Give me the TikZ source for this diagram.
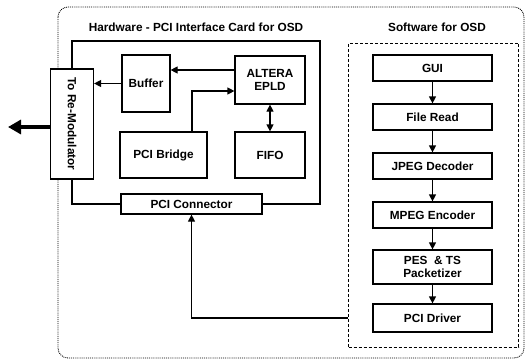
\documentclass[tikz,border=0pt]{standalone}
\usepackage{fontspec}
\setmainfont{Liberation Sans}
\usetikzlibrary{arrows.meta}
\begin{document}
\begin{tikzpicture}[x=1pt,y=-1pt,
  font=\fontsize{11.8}{13.5}\selectfont\bfseries,
  box/.style={draw, line width=1.2pt, fill=white, align=center, inner sep=0pt},
  wire/.style={line width=1.2pt},
  arr/.style={wire, -{Triangle[length=7pt,width=7pt]}},
  dblarr/.style={wire, {Triangle[length=7pt,width=7pt]}-{Triangle[length=7pt,width=7pt]}},
  bigarr/.style={line width=3.2pt, -{Triangle[length=13pt,width=14pt]}},
  title/.style={inner sep=0pt}]
\useasboundingbox (0,0) rectangle (527,361);

% enclosing system boundary
\draw[densely dotted, line width=0.9pt, rounded corners=10pt] (58,7) rectangle (524,358);

% section titles
\node[title] (hwtitle) at (196,27) {Hardware - PCI Interface Card for OSD};
\node[title] (swtitle) at (437,27) {Software for OSD};

% hardware blocks
\node[box, minimum width=43pt, minimum height=110pt] (remod) at (72,124)
  {\rotatebox{-90}{To Re-Modulator}};
\node[box, minimum width=48pt, minimum height=57pt] (buffer) at (146,83.5) {Buffer};
\node[box, minimum width=70pt, minimum height=48pt] (altera) at (270,80) {ALTERA\\EPLD};
\node[box, minimum width=87pt, minimum height=46pt] (bridge) at (163.5,155) {PCI Bridge};
\node[box, minimum width=70pt, minimum height=46pt] (fifo) at (270,155) {FIFO};
\node[box, minimum width=141pt, minimum height=20pt] (pcicon) at (191.5,204) {PCI Connector};

% card outline
\coordinate (hwTR) at (320,41);
\coordinate (hwBR) at (320,204);
\draw[wire] (remod.north) |- (hwTR) -- (hwBR) -- (pcicon.east);
\draw[wire] (pcicon.west) -| (remod.south);

% hardware signal paths
\draw[arr] ([yshift=10pt]altera.west) -- ([yshift=10pt]altera.west -| buffer.east);
\draw[arr] (buffer.west) -- (buffer.west -| remod.east);
\draw[arr] ([xshift=28.5pt]bridge.north) |- ([yshift=-11pt]altera.west);
\draw[dblarr] (altera.south) -- (fifo.north);
\coordinate (out) at (8,127);
\draw[bigarr] (remod.west |- out) -- (out);

% software section
\node[draw, densely dashed, line width=0.9pt, minimum width=170pt, minimum height=304pt] (sw) at (433.5,195) {};
\node[box, minimum width=119pt, minimum height=26pt] (gui) at (432.5,68) {GUI};
\node[box, minimum width=119pt, minimum height=26pt] (fread) at (432.5,117) {File Read};
\node[box, minimum width=119pt, minimum height=26pt] (jpeg) at (432.5,166) {JPEG Decoder};
\node[box, minimum width=119pt, minimum height=26pt] (mpeg) at (432.5,215) {MPEG Encoder};
\node[box, minimum width=119pt, minimum height=34pt] (pes) at (432.5,267) {PES \ \& TS\\Packetizer};
\node[box, minimum width=119pt, minimum height=28pt] (pcidrv) at (432.5,318) {PCI Driver};

\draw[arr] (gui) -- (fread);
\draw[arr] (fread) -- (jpeg);
\draw[arr] (jpeg) -- (mpeg);
\draw[arr] (mpeg) -- (pes);
\draw[arr] (pes) -- (pcidrv);

% driver to connector
\draw[arr] (sw.west |- pcidrv) -| (pcicon.south);
\end{tikzpicture}
\end{document}
